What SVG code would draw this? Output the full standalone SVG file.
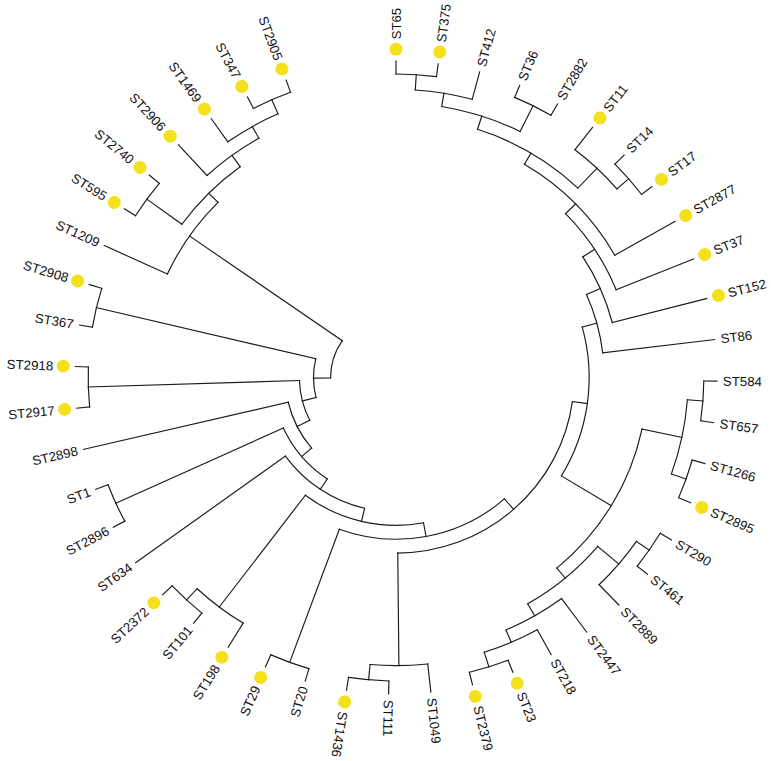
<svg xmlns="http://www.w3.org/2000/svg" width="771" height="761" viewBox="0 0 771 761">
<style>
.e circle,.e path{fill:none;stroke:#1a1a1a;stroke-width:1.15;stroke-linecap:square}
text{font-family:"Liberation Sans",Arial,sans-serif;font-size:13.2px;fill:#111}
.d{fill:#f4e11c}
.f{text-anchor:end}
</style>
<rect width="771" height="761" fill="#fff"/>
<g transform="translate(396,377.5) scale(1.006,0.992)">
<g id="connectors" class="e">
<circle r="306" stroke-dasharray="40.35 3000" transform="rotate(-90)"/>
<circle r="290.5" stroke-dasharray="57.46 3000" transform="rotate(-86.2225)"/>
<circle r="306" stroke-dasharray="40.35 3000" transform="rotate(-67.335)"/>
<circle r="277" stroke-dasharray="82.18 3000" transform="rotate(-80.556)"/>
<circle r="306" stroke-dasharray="40.35 3000" transform="rotate(-44.67)"/>
<circle r="290.5" stroke-dasharray="57.46 3000" transform="rotate(-52.225)"/>
<circle r="263" stroke-dasharray="117.04 3000" transform="rotate(-72.057)"/>
<circle r="250" stroke-dasharray="129.8 3000" transform="rotate(-59.308)"/>
<circle r="236" stroke-dasharray="92.38 3000" transform="rotate(-44.434)"/>
<circle r="222" stroke-dasharray="72.73 3000" transform="rotate(-33.2195)"/>
<circle r="207" stroke-dasharray="61.2 3000" transform="rotate(-23.835)"/>
<circle r="306" stroke-dasharray="40.35 3000" transform="rotate(0.66)"/>
<circle r="306" stroke-dasharray="40.35 3000" transform="rotate(15.77)"/>
<circle r="290.5" stroke-dasharray="76.61 3000" transform="rotate(4.4375)"/>
<circle r="306" stroke-dasharray="40.35 3000" transform="rotate(30.88)"/>
<circle r="290.5" stroke-dasharray="57.46 3000" transform="rotate(34.6575)"/>
<circle r="306" stroke-dasharray="40.35 3000" transform="rotate(68.655)"/>
<circle r="290.5" stroke-dasharray="57.46 3000" transform="rotate(61.1)"/>
<circle r="277" stroke-dasharray="63.92 3000" transform="rotate(53.545)"/>
<circle r="263" stroke-dasharray="91.03 3000" transform="rotate(40.324)"/>
<circle r="250" stroke-dasharray="166.89 3000" transform="rotate(11.9925)"/>
<circle r="192" stroke-dasharray="155.76 3000" transform="rotate(-15.365)"/>
<circle r="306" stroke-dasharray="40.35 3000" transform="rotate(91.32)"/>
<circle r="290.5" stroke-dasharray="57.46 3000" transform="rotate(83.765)"/>
<circle r="177" stroke-dasharray="251.95 3000" transform="rotate(7.8755)"/>
<circle r="306" stroke-dasharray="40.35 3000" transform="rotate(106.43)"/>
<circle r="163" stroke-dasharray="175.12 3000" transform="rotate(48.653)"/>
<circle r="306" stroke-dasharray="40.35 3000" transform="rotate(129.095)"/>
<circle r="290.5" stroke-dasharray="57.46 3000" transform="rotate(121.54)"/>
<circle r="149" stroke-dasharray="124.24 3000" transform="rotate(79.43)"/>
<circle r="135.5" stroke-dasharray="96.69 3000" transform="rotate(103.318)"/>
<circle r="306" stroke-dasharray="40.35 3000" transform="rotate(151.76)"/>
<circle r="123" stroke-dasharray="68.22 3000" transform="rotate(123.7615)"/>
<circle r="110" stroke-dasharray="52.26 3000" transform="rotate(139.6495)"/>
<circle r="306" stroke-dasharray="40.35 3000" transform="rotate(174.425)"/>
<circle r="96" stroke-dasharray="41.79 3000" transform="rotate(153.26)"/>
<circle r="306" stroke-dasharray="40.35 3000" transform="rotate(189.535)"/>
<circle r="82" stroke-dasharray="39.47 3000" transform="rotate(165.731)"/>
<circle r="306" stroke-dasharray="40.35 3000" transform="rotate(212.2)"/>
<circle r="306" stroke-dasharray="40.35 3000" transform="rotate(242.42)"/>
<circle r="290.5" stroke-dasharray="57.46 3000" transform="rotate(234.865)"/>
<circle r="277" stroke-dasharray="63.92 3000" transform="rotate(227.31)"/>
<circle r="263" stroke-dasharray="82.36 3000" transform="rotate(215.9775)"/>
<circle r="250" stroke-dasharray="88.59 3000" transform="rotate(204.645)"/>
<circle r="65" stroke-dasharray="40.02 3000" transform="rotate(179.522)"/>
<path d="M290.5 0H306" transform="rotate(-86.2225)"/>
<path d="M277 0H290.5" transform="rotate(-80.556)"/>
<path d="M277 0H306" transform="rotate(-63.5575)"/>
<path d="M263 0H277" transform="rotate(-72.057)"/>
<path d="M290.5 0H306" transform="rotate(-40.8925)"/>
<path d="M263 0H290.5" transform="rotate(-46.559)"/>
<path d="M250 0H263" transform="rotate(-59.308)"/>
<path d="M236 0H250" transform="rotate(-44.434)"/>
<path d="M222 0H236" transform="rotate(-33.2195)"/>
<path d="M207 0H222" transform="rotate(-23.835)"/>
<path d="M192 0H207" transform="rotate(-15.365)"/>
<path d="M290.5 0H306" transform="rotate(4.4375)"/>
<path d="M290.5 0H306" transform="rotate(19.5475)"/>
<path d="M250 0H290.5" transform="rotate(11.9925)"/>
<path d="M290.5 0H306" transform="rotate(34.6575)"/>
<path d="M263 0H290.5" transform="rotate(40.324)"/>
<path d="M290.5 0H306" transform="rotate(72.4325)"/>
<path d="M277 0H290.5" transform="rotate(66.766)"/>
<path d="M263 0H277" transform="rotate(60.156)"/>
<path d="M250 0H263" transform="rotate(50.24)"/>
<path d="M192 0H250" transform="rotate(31.116)"/>
<path d="M177 0H192" transform="rotate(7.8755)"/>
<path d="M290.5 0H306" transform="rotate(95.0975)"/>
<path d="M177 0H290.5" transform="rotate(89.431)"/>
<path d="M163 0H177" transform="rotate(48.653)"/>
<path d="M163 0H306" transform="rotate(110.2075)"/>
<path d="M149 0H163" transform="rotate(79.43)"/>
<path d="M290.5 0H306" transform="rotate(132.8725)"/>
<path d="M149 0H290.5" transform="rotate(127.206)"/>
<path d="M135.5 0H149" transform="rotate(103.318)"/>
<path d="M123 0H135.5" transform="rotate(123.7615)"/>
<path d="M123 0H306" transform="rotate(155.5375)"/>
<path d="M110 0H123" transform="rotate(139.6495)"/>
<path d="M96 0H110" transform="rotate(153.26)"/>
<path d="M96 0H306" transform="rotate(178.2025)"/>
<path d="M82 0H96" transform="rotate(165.731)"/>
<path d="M82 0H306" transform="rotate(193.3125)"/>
<path d="M65 0H82" transform="rotate(179.522)"/>
<path d="M263 0H306" transform="rotate(215.9775)"/>
<path d="M290.5 0H306" transform="rotate(246.1975)"/>
<path d="M277 0H290.5" transform="rotate(240.531)"/>
<path d="M263 0H277" transform="rotate(233.9205)"/>
<path d="M250 0H263" transform="rotate(224.949)"/>
<path d="M65 0H250" transform="rotate(214.797)"/>
<path d="M306 0H319" transform="rotate(-90)"/>
<path d="M306 0H319" transform="rotate(-82.445)"/>
<path d="M290.5 0H319" transform="rotate(-74.89)"/>
<path d="M306 0H319" transform="rotate(-67.335)"/>
<path d="M306 0H319" transform="rotate(-59.78)"/>
<path d="M290.5 0H319" transform="rotate(-52.225)"/>
<path d="M306 0H319" transform="rotate(-44.67)"/>
<path d="M306 0H319" transform="rotate(-37.115)"/>
<path d="M250 0H319" transform="rotate(-29.56)"/>
<path d="M236 0H319" transform="rotate(-22.005)"/>
<path d="M222 0H319" transform="rotate(-14.45)"/>
<path d="M207 0H319" transform="rotate(-6.895)"/>
<path d="M306 0H319" transform="rotate(0.66)"/>
<path d="M306 0H319" transform="rotate(8.215)"/>
<path d="M306 0H319" transform="rotate(15.77)"/>
<path d="M306 0H319" transform="rotate(23.325)"/>
<path d="M306 0H319" transform="rotate(30.88)"/>
<path d="M306 0H319" transform="rotate(38.435)"/>
<path d="M290.5 0H319" transform="rotate(45.99)"/>
<path d="M277 0H319" transform="rotate(53.545)"/>
<path d="M290.5 0H319" transform="rotate(61.1)"/>
<path d="M306 0H319" transform="rotate(68.655)"/>
<path d="M306 0H319" transform="rotate(76.21)"/>
<path d="M290.5 0H319" transform="rotate(83.765)"/>
<path d="M306 0H319" transform="rotate(91.32)"/>
<path d="M306 0H319" transform="rotate(98.875)"/>
<path d="M306 0H319" transform="rotate(106.43)"/>
<path d="M306 0H319" transform="rotate(113.985)"/>
<path d="M290.5 0H319" transform="rotate(121.54)"/>
<path d="M306 0H319" transform="rotate(129.095)"/>
<path d="M306 0H319" transform="rotate(136.65)"/>
<path d="M135.5 0H319" transform="rotate(144.205)"/>
<path d="M306 0H319" transform="rotate(151.76)"/>
<path d="M306 0H319" transform="rotate(159.315)"/>
<path d="M110 0H319" transform="rotate(166.87)"/>
<path d="M306 0H319" transform="rotate(174.425)"/>
<path d="M306 0H319" transform="rotate(181.98)"/>
<path d="M306 0H319" transform="rotate(189.535)"/>
<path d="M306 0H319" transform="rotate(197.09)"/>
<path d="M250 0H319" transform="rotate(204.645)"/>
<path d="M306 0H319" transform="rotate(212.2)"/>
<path d="M306 0H319" transform="rotate(219.755)"/>
<path d="M277 0H319" transform="rotate(227.31)"/>
<path d="M290.5 0H319" transform="rotate(234.865)"/>
<path d="M306 0H319" transform="rotate(242.42)"/>
<path d="M306 0H319" transform="rotate(249.975)"/>
</g>
<g id="leaves">
<g id="n-ST65" transform="rotate(-90)"><circle class="d" cx="331" r="6.5"/><text x="341" dy="0.35em">ST65</text></g>
<g id="n-ST375" transform="rotate(-82.445)"><circle class="d" cx="331" r="6.5"/><text x="341" dy="0.35em">ST375</text></g>
<g id="n-ST412" transform="rotate(-74.89)"><text x="325" dy="0.35em">ST412</text></g>
<g id="n-ST36" transform="rotate(-67.335)"><text x="325" dy="0.35em">ST36</text></g>
<g id="n-ST2882" transform="rotate(-59.78)"><text x="325" dy="0.35em">ST2882</text></g>
<g id="n-ST11" transform="rotate(-52.225)"><circle class="d" cx="331" r="6.5"/><text x="341" dy="0.35em">ST11</text></g>
<g id="n-ST14" transform="rotate(-44.67)"><text x="325" dy="0.35em">ST14</text></g>
<g id="n-ST17" transform="rotate(-37.115)"><circle class="d" cx="331" r="6.5"/><text x="341" dy="0.35em">ST17</text></g>
<g id="n-ST2877" transform="rotate(-29.56)"><circle class="d" cx="331" r="6.5"/><text x="341" dy="0.35em">ST2877</text></g>
<g id="n-ST37" transform="rotate(-22.005)"><circle class="d" cx="331" r="6.5"/><text x="341" dy="0.35em">ST37</text></g>
<g id="n-ST152" transform="rotate(-14.45)"><circle class="d" cx="331" r="6.5"/><text x="341" dy="0.35em">ST152</text></g>
<g id="n-ST86" transform="rotate(-6.895)"><text x="325" dy="0.35em">ST86</text></g>
<g id="n-ST584" transform="rotate(0.66)"><text x="325" dy="0.35em">ST584</text></g>
<g id="n-ST657" transform="rotate(8.215)"><text x="325" dy="0.35em">ST657</text></g>
<g id="n-ST1266" transform="rotate(15.77)"><text x="325" dy="0.35em">ST1266</text></g>
<g id="n-ST2895" transform="rotate(23.325)"><circle class="d" cx="331" r="6.5"/><text x="341" dy="0.35em">ST2895</text></g>
<g id="n-ST290" transform="rotate(30.88)"><text x="325" dy="0.35em">ST290</text></g>
<g id="n-ST461" transform="rotate(38.435)"><text x="325" dy="0.35em">ST461</text></g>
<g id="n-ST2889" transform="rotate(45.99)"><text x="325" dy="0.35em">ST2889</text></g>
<g id="n-ST2447" transform="rotate(53.545)"><text x="325" dy="0.35em">ST2447</text></g>
<g id="n-ST218" transform="rotate(61.1)"><text x="325" dy="0.35em">ST218</text></g>
<g id="n-ST23" transform="rotate(68.655)"><circle class="d" cx="331" r="6.5"/><text x="341" dy="0.35em">ST23</text></g>
<g id="n-ST2379" transform="rotate(76.21)"><circle class="d" cx="331" r="6.5"/><text x="341" dy="0.35em">ST2379</text></g>
<g id="n-ST1049" transform="rotate(83.765)"><text x="325" dy="0.35em">ST1049</text></g>
<g id="n-ST111" transform="rotate(91.32)"><text x="325" dy="0.35em">ST111</text></g>
<g id="n-ST1436" transform="rotate(98.875)"><circle class="d" cx="331" r="6.5"/><text x="341" dy="0.35em">ST1436</text></g>
<g id="n-ST20" transform="rotate(106.43)"><text class="f" x="-325" dy="0.35em" transform="rotate(180)">ST20</text></g>
<g id="n-ST29" transform="rotate(113.985)"><circle class="d" cx="331" r="6.5"/><text class="f" x="-341" dy="0.35em" transform="rotate(180)">ST29</text></g>
<g id="n-ST198" transform="rotate(121.54)"><circle class="d" cx="331" r="6.5"/><text class="f" x="-341" dy="0.35em" transform="rotate(180)">ST198</text></g>
<g id="n-ST101" transform="rotate(129.095)"><text class="f" x="-325" dy="0.35em" transform="rotate(180)">ST101</text></g>
<g id="n-ST2372" transform="rotate(136.65)"><circle class="d" cx="331" r="6.5"/><text class="f" x="-341" dy="0.35em" transform="rotate(180)">ST2372</text></g>
<g id="n-ST634" transform="rotate(144.205)"><text class="f" x="-325" dy="0.35em" transform="rotate(180)">ST634</text></g>
<g id="n-ST2896" transform="rotate(151.76)"><text class="f" x="-325" dy="0.35em" transform="rotate(180)">ST2896</text></g>
<g id="n-ST1" transform="rotate(159.315)"><text class="f" x="-325" dy="0.35em" transform="rotate(180)">ST1</text></g>
<g id="n-ST2898" transform="rotate(166.87)"><text class="f" x="-325" dy="0.35em" transform="rotate(180)">ST2898</text></g>
<g id="n-ST2917" transform="rotate(174.425)"><circle class="d" cx="331" r="6.5"/><text class="f" x="-341" dy="0.35em" transform="rotate(180)">ST2917</text></g>
<g id="n-ST2918" transform="rotate(181.98)"><circle class="d" cx="331" r="6.5"/><text class="f" x="-341" dy="0.35em" transform="rotate(180)">ST2918</text></g>
<g id="n-ST367" transform="rotate(189.535)"><text class="f" x="-325" dy="0.35em" transform="rotate(180)">ST367</text></g>
<g id="n-ST2908" transform="rotate(197.09)"><circle class="d" cx="331" r="6.5"/><text class="f" x="-341" dy="0.35em" transform="rotate(180)">ST2908</text></g>
<g id="n-ST1209" transform="rotate(204.645)"><text class="f" x="-325" dy="0.35em" transform="rotate(180)">ST1209</text></g>
<g id="n-ST595" transform="rotate(212.2)"><circle class="d" cx="331" r="6.5"/><text class="f" x="-341" dy="0.35em" transform="rotate(180)">ST595</text></g>
<g id="n-ST2740" transform="rotate(219.755)"><circle class="d" cx="331" r="6.5"/><text class="f" x="-341" dy="0.35em" transform="rotate(180)">ST2740</text></g>
<g id="n-ST2906" transform="rotate(227.31)"><circle class="d" cx="331" r="6.5"/><text class="f" x="-341" dy="0.35em" transform="rotate(180)">ST2906</text></g>
<g id="n-ST1469" transform="rotate(234.865)"><circle class="d" cx="331" r="6.5"/><text class="f" x="-341" dy="0.35em" transform="rotate(180)">ST1469</text></g>
<g id="n-ST347" transform="rotate(242.42)"><circle class="d" cx="331" r="6.5"/><text class="f" x="-341" dy="0.35em" transform="rotate(180)">ST347</text></g>
<g id="n-ST2905" transform="rotate(249.975)"><circle class="d" cx="331" r="6.5"/><text class="f" x="-341" dy="0.35em" transform="rotate(180)">ST2905</text></g>
</g>
</g>
</svg>
